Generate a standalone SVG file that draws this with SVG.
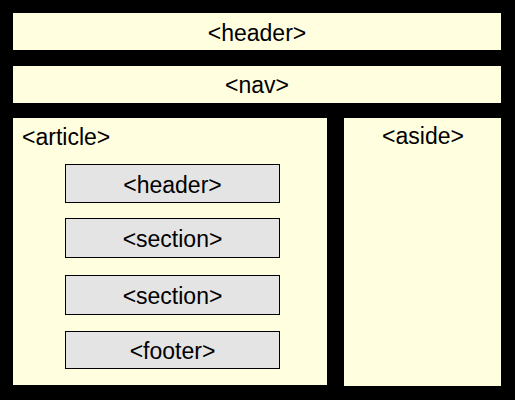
<svg xmlns="http://www.w3.org/2000/svg" width="515" height="400" viewBox="0 0 515 400">
<style>
.outer{fill:#ffffe0;}
.inner{fill:#e4e4e4;stroke:#000;stroke-width:1;}
text{font-family:"Liberation Sans",Arial,sans-serif;font-size:23px;fill:#000;}
.c{text-anchor:middle;}
</style>
<rect x="0" y="0" width="515" height="400" fill="#000"/>
<g id="header">
<rect class="outer" x="13" y="13" width="488" height="37"/>
<text class="c" x="257" y="41">&lt;header&gt;</text>
</g>
<g id="nav">
<rect class="outer" x="13" y="66" width="488" height="37"/>
<text class="c" x="257" y="93">&lt;nav&gt;</text>
</g>
<g id="article">
<rect class="outer" x="13" y="118" width="314" height="267"/>
<text x="22" y="145">&lt;article&gt;</text>
</g>
<g id="aside">
<rect class="outer" x="344" y="118" width="157" height="268"/>
<text class="c" x="423" y="144">&lt;aside&gt;</text>
</g>
<g id="article-header">
<rect class="inner" x="65.5" y="164.5" width="214" height="38"/>
<text class="c" x="172.5" y="193">&lt;header&gt;</text>
</g>
<g id="section1">
<rect class="inner" x="65.5" y="218.5" width="214" height="39"/>
<text class="c" x="172.5" y="247">&lt;section&gt;</text>
</g>
<g id="section2">
<rect class="inner" x="65.5" y="275.5" width="214" height="39"/>
<text class="c" x="172.5" y="304">&lt;section&gt;</text>
</g>
<g id="footer">
<rect class="inner" x="65.5" y="331.5" width="214" height="37"/>
<text class="c" x="172.5" y="359">&lt;footer&gt;</text>
</g>
<g id="connectors"></g>
</svg>
